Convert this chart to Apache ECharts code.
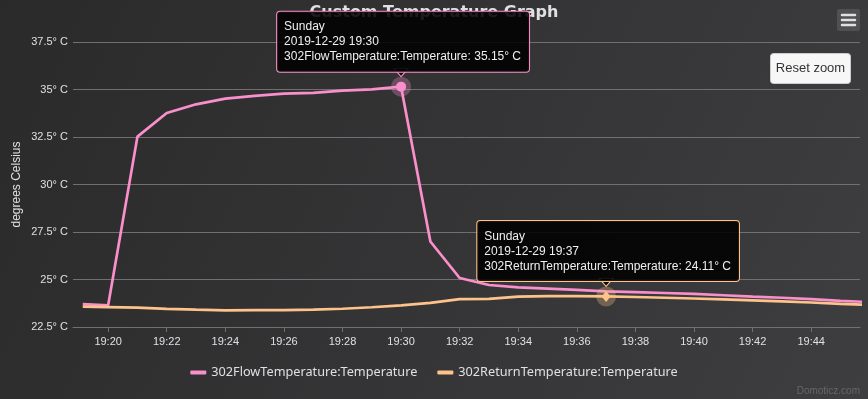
<!DOCTYPE html>
<html>
<head>
<meta charset="utf-8">
<script src="https://cdn.jsdelivr.net/npm/echarts@6/dist/echarts.min.js"></script>
<style>
  html, body { margin: 0; padding: 0; }
  #box { width: 868px; height: 399px; }
</style>
</head>
<body>
<div id="box"></div>
<script>
  // sample times (2019-12-29), one reading per minute
  const day = '2019-12-29';
  const dayName = 'Sunday';
  const times = ['19:19:08', '19:20', '19:21', '19:22', '19:23', '19:24', '19:25', '19:26', '19:27',
    '19:28', '19:29', '19:30', '19:31', '19:32', '19:33', '19:34', '19:35', '19:36', '19:37',
    '19:38', '19:39', '19:40', '19:41', '19:42', '19:43', '19:44', '19:45', '19:46'];
  const flowTemp = [23.70, 23.64, 32.52, 33.76, 34.22, 34.52, 34.66, 34.78, 34.82, 34.94, 35.01,
    35.15, 27.00, 25.08, 24.71, 24.59, 24.52, 24.45, 24.38, 24.34, 24.29, 24.24, 24.17, 24.10,
    24.04, 23.97, 23.88, 23.81];
  const returnTemp = [23.57, 23.55, 23.52, 23.45, 23.41, 23.38, 23.39, 23.39, 23.41, 23.46, 23.54,
    23.64, 23.77, 23.97, 23.98, 24.10, 24.13, 24.12, 24.11, 24.08, 24.04, 24.00, 23.95, 23.90,
    23.85, 23.79, 23.72, 23.66];
  const seriesNames = ['302FlowTemperature:Temperature', '302ReturnTemperature:Temperature'];
  const seriesColors = ['#f98fcb', '#fdc38a'];
  const haloColors = ['rgba(249,143,203,0.3)', 'rgba(253,195,138,0.3)'];
  const hoverIdx = [11, 18]; // points with a tooltip
  const hoverSymbol = ['circle', 'diamond'];
  const xMin = day + ' 19:18:48';
  const xMax = day + ' 19:45:40';

  const fullTime = t => day + ' ' + (t.length === 5 ? t + ':00' : t);

  function makeSeries(k, values) {
    const i = hoverIdx[k];
    const coord = [fullTime(times[i]), values[i]];
    const tip = '{l|' + dayName + '}\n{l|' + day + ' ' + times[i] + '}\n{l|' +
      seriesNames[k] + ': ' + values[i].toFixed(2) + '° C}';
    return {
      name: seriesNames[k],
      type: 'line',
      showSymbol: false,
      color: seriesColors[k],
      lineStyle: { width: 2.7, color: seriesColors[k] },
      data: times.map((t, j) => [fullTime(t), values[j]]),
      markPoint: {
        silent: true,
        data: [
          { coord: coord, symbol: 'circle', symbolSize: 20, itemStyle: { color: haloColors[k] }, label: { show: false } },
          {
            coord: coord, symbol: 'triangle', symbolRotate: 180, symbolSize: [14, 8], symbolOffset: [0, -14],
            itemStyle: { color: 'rgba(0,0,0,0.88)', borderColor: seriesColors[k], borderWidth: 1 },
            label: { show: false }
          },
          {
            coord: coord, symbol: hoverSymbol[k], symbolSize: k === 0 ? 10 : [9, 11],
            itemStyle: { color: seriesColors[k] },
            label: {
              show: true,
              position: 'top',
              distance: 10,
              offset: [2, 0],
              formatter: tip,
              backgroundColor: 'rgba(0,0,0,0.88)',
              borderColor: seriesColors[k],
              borderWidth: 1,
              borderRadius: 3,
              padding: [8, 8, 7, 7],
              rich: {
                l: { align: 'left', color: '#f0f0f0', fontSize: 12, lineHeight: 15, fontFamily: 'Liberation Sans' }
              }
            }
          }
        ]
      }
    };
  }

  const chart = echarts.init(document.getElementById('box'));
  const option = {
    animation: false,
    backgroundColor: {
      type: 'linear', x: 0, y: 0, x2: 1, y2: 1,
      colorStops: [{ offset: 0, color: '#2a2a2b' }, { offset: 1, color: '#3e3e40' }]
    },
    title: [
      {
        text: 'Custom Temperature Graph',
        left: 'center',
        top: 5,
        padding: 0,
        z: 1,
        textStyle: { color: '#E0E0E3', fontSize: 16, fontWeight: 'bold', fontFamily: 'DejaVu Sans' }
      },
      {
        text: 'Domoticz.com',
        right: 8,
        bottom: 3,
        padding: 0,
        textStyle: { color: '#666666', fontSize: 10, fontWeight: 'normal', fontFamily: 'Liberation Sans' }
      }
    ],
    grid: { left: 73, right: 8, top: 42, bottom: 72 },
    legend: {
      bottom: 15,
      left: 'center',
      itemGap: 20,
      itemWidth: 16,
      itemHeight: 4,
      icon: 'roundRect',
      textStyle: { color: '#E0E0E3', fontSize: 12.7, fontFamily: 'Noto Sans' },
      data: seriesNames
    },
    xAxis: {
      type: 'time',
      min: xMin,
      max: xMax,
      splitNumber: 10,
      axisLine: { lineStyle: { color: '#707073' } },
      axisTick: { show: true, length: 5, lineStyle: { color: '#707073' } },
      splitLine: { show: false },
      axisLabel: {
        color: '#E0E0E3', fontSize: 11, margin: 9, fontFamily: 'Liberation Sans',
        formatter: '{HH}:{mm}', showMinLabel: false, showMaxLabel: false
      }
    },
    yAxis: {
      type: 'value',
      min: 22.5,
      max: 37.5,
      interval: 2.5,
      name: 'degrees Celsius',
      nameLocation: 'middle',
      nameGap: 50,
      nameMoveOverlap: false,
      nameTextStyle: { color: '#E0E0E3', fontSize: 12, fontFamily: 'Liberation Sans' },
      axisLine: { show: false },
      axisTick: { show: false },
      splitLine: { lineStyle: { color: '#707073' } },
      axisLabel: {
        color: '#E0E0E3', fontSize: 11, margin: 5, fontFamily: 'Liberation Sans',
        formatter: v => v + '° C'
      }
    },
    graphic: [
      {
        type: 'group', left: 770, top: 53,
        children: [
          { type: 'rect', shape: { x: 0, y: 0, width: 80, height: 30, r: 3 }, style: { fill: '#f7f7f7', stroke: '#cccccc', lineWidth: 1 } },
          { type: 'text', x: 40, y: 15, style: { text: 'Reset zoom', fill: '#333333', fontSize: 13, fontFamily: 'Liberation Sans', align: 'center', verticalAlign: 'middle' } }
        ]
      },
      {
        type: 'group', left: 837, top: 9,
        children: [
          { type: 'rect', shape: { x: 0, y: 0, width: 23, height: 22, r: 2 }, style: { fill: '#505053' } },
          { type: 'line', shape: { x1: 5, y1: 6, x2: 18, y2: 6 }, style: { stroke: '#E0E0E3', lineWidth: 2.5, lineCap: 'round' } },
          { type: 'line', shape: { x1: 5, y1: 11, x2: 18, y2: 11 }, style: { stroke: '#E0E0E3', lineWidth: 2.5, lineCap: 'round' } },
          { type: 'line', shape: { x1: 5, y1: 16, x2: 18, y2: 16 }, style: { stroke: '#E0E0E3', lineWidth: 2.5, lineCap: 'round' } }
        ]
      }
    ],
    series: [makeSeries(0, flowTemp), makeSeries(1, returnTemp)]
  };
  chart.setOption(option);
</script>
</body>
</html>
